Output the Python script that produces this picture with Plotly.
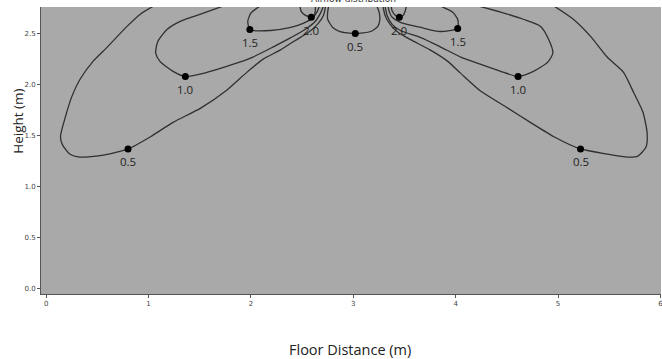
import plotly.graph_objects as go

# Iso-velocity contour lines (m/s) of the airflow in the room cross-section.
# Each segment runs from where it leaves the ceiling to where it returns.
left_05_x = [1.05, 0.92, 0.79, 0.60, 0.46, 0.33, 0.25, 0.19, 0.14, 0.16, 0.23, 0.33, 0.56, 0.80,
             1.02, 1.24, 1.51, 1.77, 1.96, 2.12, 2.29, 2.43, 2.56, 2.65, 2.71, 2.73]
left_05_y = [2.77, 2.69, 2.57, 2.37, 2.23, 2.05, 1.88, 1.69, 1.49, 1.41, 1.32, 1.29, 1.31, 1.37,
             1.49, 1.63, 1.77, 1.95, 2.12, 2.25, 2.34, 2.43, 2.51, 2.59, 2.68, 2.77]

left_10_x = [1.73, 1.51, 1.31, 1.18, 1.09, 1.07, 1.11, 1.24, 1.36, 1.57, 1.83, 2.02, 2.22, 2.39,
             2.53, 2.63, 2.68, 2.71]
left_10_y = [2.77, 2.69, 2.62, 2.54, 2.42, 2.31, 2.23, 2.13, 2.08, 2.12, 2.20, 2.27, 2.37, 2.46,
             2.54, 2.62, 2.70, 2.77]

left_15_x = [2.09, 2.00, 1.97, 1.99, 2.19, 2.39, 2.51, 2.60, 2.65, 2.67]
left_15_y = [2.77, 2.70, 2.62, 2.54, 2.53, 2.56, 2.60, 2.65, 2.72, 2.77]

left_20_x = [2.48, 2.49, 2.53, 2.59, 2.62, 2.63, 2.63]
left_20_y = [2.77, 2.72, 2.68, 2.66, 2.68, 2.73, 2.77]

center_05_x = [2.76, 2.75, 2.75, 2.80, 2.87, 3.02, 3.17, 3.24, 3.26, 3.25, 3.23]
center_05_y = [2.77, 2.71, 2.64, 2.56, 2.52, 2.50, 2.52, 2.57, 2.64, 2.72, 2.77]

right_20_x = [3.37, 3.38, 3.41, 3.45, 3.49, 3.51, 3.52]
right_20_y = [2.77, 2.72, 2.68, 2.66, 2.68, 2.73, 2.77]

right_15_x = [3.85, 3.97, 4.02, 4.02, 3.85, 3.66, 3.46, 3.38, 3.35, 3.34]
right_15_y = [2.77, 2.71, 2.64, 2.55, 2.52, 2.56, 2.61, 2.66, 2.72, 2.77]

right_10_x = [4.22, 4.44, 4.66, 4.83, 4.91, 4.95, 4.90, 4.76, 4.61, 4.44, 4.24, 4.05, 3.85, 3.66,
              3.46, 3.38, 3.33, 3.31]
right_10_y = [2.77, 2.71, 2.64, 2.57, 2.44, 2.31, 2.22, 2.13, 2.08, 2.13, 2.20, 2.27, 2.37, 2.46,
              2.53, 2.59, 2.68, 2.77]

right_05_x = [4.96, 5.15, 5.32, 5.48, 5.64, 5.74, 5.83, 5.87, 5.86, 5.78, 5.68, 5.48, 5.22, 4.96,
              4.73, 4.51, 4.24, 4.05, 3.92, 3.75, 3.56, 3.44, 3.36, 3.31, 3.29]
right_05_y = [2.77, 2.64, 2.47, 2.27, 2.12, 1.92, 1.73, 1.53, 1.39, 1.30, 1.29, 1.32, 1.37, 1.49,
              1.63, 1.77, 1.94, 2.11, 2.23, 2.34, 2.44, 2.51, 2.59, 2.68, 2.77]

# Contour level labels and the points they are attached to
label_text = ["0.5", "1.0", "1.5", "2.0", "0.5", "2.0", "1.5", "1.0", "0.5"]
label_x = [0.80, 1.36, 1.99, 2.59, 3.02, 3.45, 4.02, 4.61, 5.22]
label_y = [1.37, 2.08, 2.54, 2.66, 2.50, 2.66, 2.55, 2.08, 1.37]

x_ticks = [0, 1, 2, 3, 4, 5, 6]
y_ticks = [0.0, 0.5, 1.0, 1.5, 2.0, 2.5]

segments = [
    (left_05_x, left_05_y), (left_10_x, left_10_y), (left_15_x, left_15_y), (left_20_x, left_20_y),
    (center_05_x, center_05_y),
    (right_20_x, right_20_y), (right_15_x, right_15_y), (right_10_x, right_10_y), (right_05_x, right_05_y),
]

fig = go.Figure()
for sx, sy in segments:
    fig.add_trace(go.Scatter(
        x=sx, y=sy, mode="lines", line=dict(color="#303030", width=1.3, shape="spline", smoothing=0.6),
        hoverinfo="skip", showlegend=False,
    ))

fig.add_trace(go.Scatter(
    x=label_x, y=label_y, mode="markers",
    marker=dict(color="black", size=7),
    showlegend=False, cliponaxis=False, hoverinfo="skip",
))

# Level values written just beneath each marker
level_notes = [
    dict(text=t, x=lx, y=ly, xref="x", yref="y", showarrow=False, yanchor="middle", yshift=-13,
         font=dict(family="Open Sans, sans-serif", size=11.5, color="#222222"))
    for t, lx, ly in zip(label_text, label_x, label_y)
]

axis_common = dict(
    showgrid=False, zeroline=False, showline=True, linecolor="#555555", linewidth=1,
    ticks="outside", ticklen=3, tickcolor="#555555", tickwidth=1, ticklabeloverflow="allow",
    automargin=False,
    tickfont=dict(family="DejaVu Sans, sans-serif", size=7, color="#444444"),
)

fig.update_layout(
    width=662, height=359,
    margin=dict(l=41, r=1, t=7, b=65, autoexpand=False),
    paper_bgcolor="white", plot_bgcolor="#a9a9a9",
    xaxis=dict(range=[-0.05, 6.006], tickvals=x_ticks, ticktext=[str(v) for v in x_ticks], **axis_common),
    yaxis=dict(range=[-0.05, 2.76], tickvals=y_ticks, ticktext=[f"{v:.1f}" for v in y_ticks], **axis_common),
    annotations=level_notes + [
        dict(text="Airflow distribution", xref="x", yref="paper", x=3.0, y=1, yanchor="bottom",
             yshift=1, showarrow=False, font=dict(family="DejaVu Sans, sans-serif", size=9, color="#333333")),
        dict(text="Height (m)", xref="paper", yref="paper", x=0, y=0.6, textangle=-90,
             xanchor="center", yanchor="middle", xshift=-23, showarrow=False,
             font=dict(family="Open Sans, sans-serif", size=13.5, color="#222222")),
        dict(text="Floor Distance (m)", xref="x", yref="paper", x=2.97, y=0, xanchor="center",
             yanchor="middle", yshift=-55, showarrow=False,
             font=dict(family="Open Sans, sans-serif", size=14.5, color="#222222")),
    ],
)

fig.write_html("out.html")
